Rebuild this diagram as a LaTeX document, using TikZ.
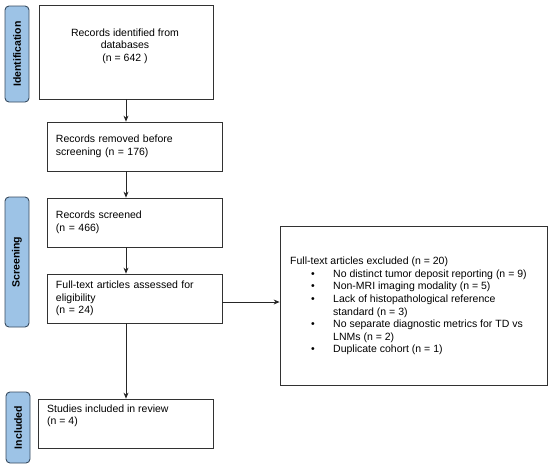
\documentclass[tikz,border=0pt]{standalone}
\usepackage{fontspec}
\setmainfont{Liberation Sans}
\usetikzlibrary{arrows.meta}
\definecolor{tabfill}{RGB}{157,195,230}
\definecolor{tabline}{RGB}{55,75,95}
\definecolor{boxline}{RGB}{50,50,50}
\begin{document}
\begin{tikzpicture}[x=1pt,y=-1pt,
  font=\fontsize{10.5}{12.6}\selectfont,
  box/.style={draw=boxline,line width=0.8pt,fill=white,inner sep=0pt},
  lbox/.style={box,align=left,inner xsep=9pt},
  tab/.style={draw=tabline,line width=0.9pt,fill=tabfill,rounded corners=4pt,rotate=90,
    minimum height=24pt,inner sep=0pt,font=\fontsize{10.5}{12}\selectfont\bfseries},
  arr/.style={draw=black!85,line width=0.8pt,-{Stealth[length=6pt,width=5pt]}}]
\useasboundingbox (0,0) rectangle (550,467);
% phase tabs
\node[tab,minimum width=96pt] (tid) at (17,54) {Identification};
\node[tab,minimum width=130pt] (tsc) at (17,262) {Screening};
\node[tab,minimum width=71pt] (tin) at (18,427.5) {Included};
% boxes
\node[box,minimum width=174pt,minimum height=94pt] (b1) at (126,52) {};
\node[align=center,inner sep=0pt] (t1) at (125,46) {Records identified from\\databases\\(n = 642 )};
\node[lbox,text width=157pt,minimum height=49pt] (b2) at (134.5,146.5) {Records removed before\\screening (n = 176)};
\node[lbox,text width=157pt,minimum height=49pt] (b3) at (134.5,222.5) {Records screened\\(n = 466)};
\node[lbox,text width=157pt,minimum height=49pt] (b4) at (134.5,298.5) {Full-text articles assessed for\\eligibility\\(n = 24)};
\node[box,minimum width=267pt,minimum height=159pt] (b5) at (413.5,305.5) {};
\node[align=left,inner sep=0pt,anchor=west] (t5) at (290,306) {Full-text articles excluded (n = 20)\\
\hspace*{21pt}\makebox[22pt][l]{•}No distinct tumor deposit reporting (n = 9)\\
\hspace*{21pt}\makebox[22pt][l]{•}Non-MRI imaging modality (n = 5)\\
\hspace*{21pt}\makebox[22pt][l]{•}Lack of histopathological reference\\
\hspace*{43pt}standard (n = 3)\\
\hspace*{21pt}\makebox[22pt][l]{•}No separate diagnostic metrics for TD vs\\
\hspace*{43pt}LNMs (n = 2)\\
\hspace*{21pt}\makebox[22pt][l]{•}Duplicate cohort (n = 1)};
\node[box,minimum width=175pt,minimum height=49pt] (b6) at (125.5,423.5) {};
\node[align=left,inner sep=0pt,anchor=north west] (t6) at (47,404.5) {Studies included in review\\(n = 4)};
% connectors
\draw[arr] (b1.south) -- (b1.south |- b2.north);
\draw[arr] (b1.south |- b2.south) -- (b1.south |- b3.north);
\draw[arr] (b1.south |- b3.south) -- (b1.south |- b4.north);
\draw[arr] ([yshift=-3.5pt]b4.east) -- ([yshift=-3.5pt]b4.east -| b5.west);
\draw[arr] (b1.south |- b4.south) -- (b1.south |- b6.north);
\end{tikzpicture}
\end{document}
